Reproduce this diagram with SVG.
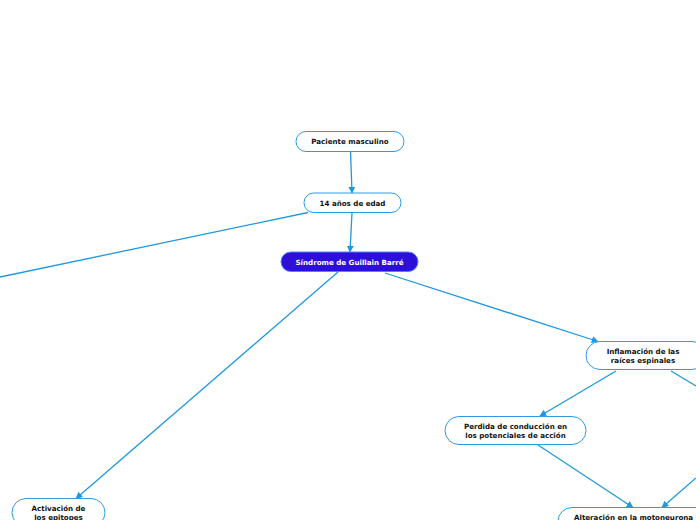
<svg xmlns="http://www.w3.org/2000/svg" width="696" height="520" viewBox="0 0 696 520">
<style>
.n{fill:#fff;stroke:#2f9be2;stroke-width:1}
.t{font-family:"DejaVu Sans",Verdana,sans-serif;font-weight:bold;font-size:7.1px;fill:#111;text-anchor:middle}
.c{stroke:#1e98e0;stroke-width:1.3;fill:none}
</style>
<defs>
<marker id="a" viewBox="0 0 10 10" refX="9" refY="5" markerWidth="7" markerHeight="7" markerUnits="userSpaceOnUse" orient="auto">
<path d="M0,0L10,5L0,10z" fill="#1e98e0"/>
</marker>
</defs>
<rect width="696" height="520" fill="#fff"/>
<g id="connectors">
<line class="c" x1="350.5" y1="151" x2="352" y2="193" marker-end="url(#a)"/>
<line class="c" x1="352" y1="212.5" x2="350" y2="252" marker-end="url(#a)"/>
<line class="c" x1="308" y1="212.5" x2="0" y2="277"/>
<line class="c" x1="338" y1="272" x2="76" y2="498.5" marker-end="url(#a)"/>
<line class="c" x1="385" y1="273" x2="598" y2="341.5" marker-end="url(#a)"/>
<line class="c" x1="616" y1="371" x2="540" y2="416" marker-end="url(#a)"/>
<line class="c" x1="671" y1="371" x2="696" y2="386"/>
<line class="c" x1="538" y1="445" x2="633" y2="507.5" marker-end="url(#a)"/>
<line class="c" x1="696" y1="478" x2="662" y2="507.5" marker-end="url(#a)"/>
</g>
<g id="n1"><rect class="n" x="296" y="131.5" width="108" height="20" rx="10"/><text class="t" x="350" y="144">Paciente masculino</text></g>
<g id="n2"><rect class="n" x="304" y="193" width="97" height="19.5" rx="9.75"/><text class="t" x="352.5" y="205.5">14 años de edad</text></g>
<g id="n3"><rect x="281" y="252" width="137" height="19.5" rx="9.75" fill="#2e0edb" stroke="#4f86ea" stroke-width="1"/><text class="t" x="349.5" y="264.5" style="fill:#fff">Síndrome de Guillain Barré</text></g>
<g id="n4"><rect class="n" x="586" y="341.5" width="120" height="28" rx="14"/><text class="t" x="643" y="354">Inflamación de las</text><text class="t" x="643" y="362.5">raíces espinales</text></g>
<g id="n5"><rect class="n" x="445" y="416.5" width="141" height="28" rx="14"/><text class="t" x="515.5" y="429">Perdida de conducción en</text><text class="t" x="515.5" y="438">los potenciales de acción</text></g>
<g id="n6"><rect class="n" x="12" y="498.5" width="93" height="28" rx="14"/><text class="t" x="58.5" y="511">Activación de</text><text class="t" x="58.5" y="520">los epitopes</text></g>
<g id="n7"><rect class="n" x="558" y="507.5" width="160" height="28" rx="14"/><text class="t" x="574" y="520" style="text-anchor:start">Alteración en la motoneurona I</text></g>
</svg>
